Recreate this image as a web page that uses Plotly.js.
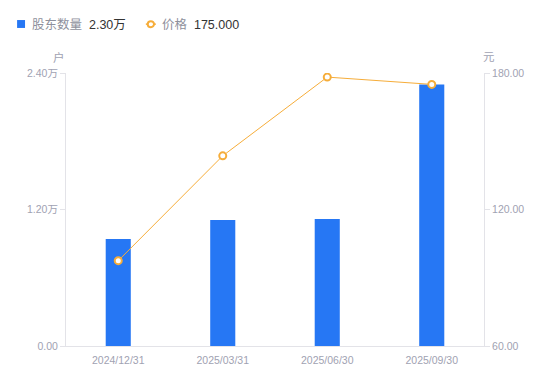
<!DOCTYPE html>
<html><head><meta charset="utf-8">
<script src="https://cdn.plot.ly/plotly-3.0.1.min.js"></script>
<style>html,body{margin:0;padding:0;background:#fff}#c{width:550px;height:381px}</style>
</head><body><div id="c"></div>
<script>
const categories = ['2024/12/31','2025/03/31','2025/06/30','2025/09/30'];
const holders = [9400, 11080, 11160, 23000];
const price = [97.5, 143.6, 178.2, 175.0];
const leftTickVals = [0, 12000, 24000];
const leftTickText = ['0.00', '1.20万', '2.40万'];
const rightTickVals = [60, 120, 180];
const rightTickText = ['60.00', '120.00', '180.00'];
const seriesNames = ['股东数量', '价格'];
const legendValues = ['2.30万', '175.000'];

const F = '"Liberation Sans", Arial, "Noto Sans CJK SC", sans-serif';
const tickColor = '#9fa2b2';
const barColor = '#2677f4';
const lineColor = '#f6ad3a';

const traces = [
  {type:'bar', x:categories, y:holders, name:seriesNames[0], marker:{color:barColor}, width:0.24, yaxis:'y', hoverinfo:'none'},
  {type:'scatter', mode:'lines+markers', x:categories, y:price, name:seriesNames[1], yaxis:'y2',
   line:{color:lineColor, width:1}, marker:{symbol:'circle', size:7, color:'#fff', line:{color:lineColor, width:2}}, hoverinfo:'none'}
];

const layout = {
  width:550, height:381,
  margin:{l:66, r:66, t:73, b:35},
  paper_bgcolor:'#fff', plot_bgcolor:'#fff',
  showlegend:false,
  font:{family:F, size:11, color:tickColor},
  xaxis:{type:'category', showgrid:false, zeroline:false, showline:true, linecolor:'#e3e3e8', linewidth:1,
    ticks:'', ticklabelstandoff:4, tickfont:{size:10.5, color:tickColor}, fixedrange:true},
  yaxis:{range:[0,24000], tickvals:leftTickVals, ticktext:leftTickText, showgrid:false, zeroline:false,
    showline:true, linecolor:'#e3e3e8', ticks:'outside', ticklen:5, tickcolor:'#e3e3e8', tickfont:{size:10.5, color:tickColor}},
  yaxis2:{range:[60,180], tickvals:rightTickVals, ticktext:rightTickText, overlaying:'y', side:'right', showgrid:false, zeroline:false,
    showline:true, linecolor:'#e3e3e8', ticks:'outside', ticklen:5, tickcolor:'#e3e3e8', tickfont:{size:10.5, color:tickColor}},
  shapes:[
    {type:'rect', xref:'paper', yref:'paper', x0:-0.117, x1:-0.098, y0:1.165, y1:1.194, fillcolor:barColor, line:{width:0}},
    {type:'line', xref:'paper', yref:'paper', x0:0.191, x1:0.215, y0:1.179, y1:1.179, line:{color:lineColor, width:1.5}},
    {type:'circle', xref:'paper', yref:'paper', x0:0.1955, x1:0.2105, y0:1.168, y1:1.190, fillcolor:'#fff', line:{color:lineColor, width:2}}
  ],
  annotations:[
    {xref:'paper', yref:'paper', x:-0.086, y:1.179, xanchor:'left', yanchor:'middle', showarrow:false,
     text:'<span style="color:#8e909c">'+seriesNames[0]+'</span>  <span style="color:#333">'+legendValues[0]+'</span>', font:{size:12.5, family:F}},
    {xref:'paper', yref:'paper', x:0.225, y:1.179, xanchor:'left', yanchor:'middle', showarrow:false,
     text:'<span style="color:#8e909c">'+seriesNames[1]+'</span>  <span style="color:#333">'+legendValues[1]+'</span>', font:{size:12.5, family:F}},
    {xref:'paper', yref:'paper', x:-0.017, y:1.058, xanchor:'center', yanchor:'middle', showarrow:false, text:'户', font:{size:11.5, color:tickColor, family:F}},
    {xref:'paper', yref:'paper', x:1.012, y:1.058, xanchor:'center', yanchor:'middle', showarrow:false, text:'元', font:{size:11.5, color:tickColor, family:F}}
  ]
};
Plotly.newPlot('c', traces, layout, {displayModeBar:false, staticPlot:true});
</script></body></html>
